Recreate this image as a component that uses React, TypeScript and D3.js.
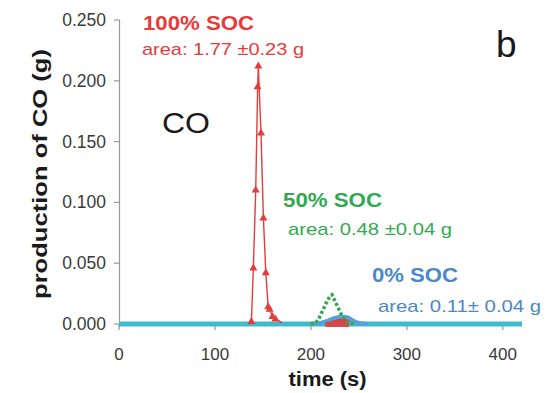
import React from "react";
import * as d3 from "d3";

// ---- data ----
const xTicks = [0, 100, 200, 300, 400];
const yTicks = [0, 0.05, 0.1, 0.15, 0.2, 0.25];

// 100% SOC (red, triangles)
const redTime = [136, 138, 140, 142.5, 144.5, 145.2, 148, 150.5, 153, 155.5, 157, 160, 163, 166, 170];
const redValue = [0.001, 0.002, 0.046, 0.11, 0.195, 0.212, 0.157, 0.087, 0.042, 0.014, 0.012, 0.006, 0.004, 0.003, 0.001];
const redMarkerTime = [138, 140, 142.5, 144.5, 145.2, 148, 150.5, 153, 155.5, 157, 160, 163];
// red tail near zero and small second bump
const redTailTime = [170, 200, 205, 215, 225, 232, 240, 245, 260, 282];
const redTailValue = [-0.0006, -0.0006, 0, 0.002, 0.004, 0.0045, 0.003, 0, -0.0006, -0.0006];

// 50% SOC (green, dotted)
const greenTime = [200, 205, 208, 211, 214, 217, 220, 222, 225, 228, 231, 234, 237, 240, 245];
const greenValue = [0, 0.001, 0.004, 0.009, 0.014, 0.019, 0.023, 0.024, 0.019, 0.014, 0.009, 0.005, 0.002, 0.001, 0];

// 0% SOC (blue bump)
const blueTime = [200, 210, 218, 225, 232, 238, 244, 250, 260];
const blueValue = [0, 0.0008, 0.0028, 0.005, 0.006, 0.0055, 0.0028, 0.0008, 0];

// baseline (cyan)
const cyanTime = [0, 420];
const cyanValue = [0, 0];

const W = 549;
const H = 393;
const FONT = "'Liberation Sans', Arial, sans-serif";

const RED = "#e63b3b";
const GREEN = "#33a852";
const BLUE_TXT = "#4a88c9";
const CYAN = "#3fbccc";
const BLUE = "#58a0dc";

export default function App() {
  const x = d3.scaleLinear().domain([0, 420]).range([119, 522]);
  const y = d3.scaleLinear().domain([0, 0.25]).range([324, 20]);

  const line = d3
    .line<[number, number]>()
    .x((d) => x(d[0]))
    .y((d) => y(d[1]));
  const curved = d3
    .line<[number, number]>()
    .x((d) => x(d[0]))
    .y((d) => y(d[1]))
    .curve(d3.curveMonotoneX);
  const area = d3
    .area<[number, number]>()
    .x((d) => x(d[0]))
    .y0(y(0) + 2)
    .y1((d) => y(d[1]))
    .curve(d3.curveMonotoneX);

  const zip = (a: number[], b: number[]) => a.map((t, i) => [t, b[i]] as [number, number]);
  const redPts = zip(redTime, redValue);
  const redTail = zip(redTailTime, redTailValue);
  const greenPts = zip(greenTime, greenValue);
  const bluePts = zip(blueTime, blueValue);
  const cyanPts = zip(cyanTime, cyanValue);

  const tri = d3.symbol().type(d3.symbolTriangle).size(28)() as string;
  const redMarkers = redMarkerTime.map((t) => {
    const i = redTime.indexOf(t);
    return [t, redValue[i]] as [number, number];
  });

  const T = (p: {
    x: number;
    y: number;
    size: number;
    len?: number;
    fill: string;
    bold?: boolean;
    anchor?: string;
    children: React.ReactNode;
    transform?: string;
  }) => (
    <text
      x={p.x}
      y={p.y}
      fontSize={p.size}
      fontFamily={FONT}
      fontWeight={p.bold ? "bold" : "normal"}
      fill={p.fill}
      textAnchor={p.anchor || "start"}
      textLength={p.len}
      lengthAdjust={p.len ? "spacingAndGlyphs" : undefined}
      transform={p.transform}
    >
      {p.children}
    </text>
  );

  return (
    <svg
      width={W}
      height={H}
      style={{ position: "absolute", left: 0, top: 0, background: "#fff" }}
    >
      <rect width={W} height={H} fill="#fff" />
      {/* y axis */}
      <line x1={119.5} x2={119.5} y1={y(0.25)} y2={y(0) + 3} stroke="#999" strokeWidth={1.2} />
      {yTicks.map((v) => (
        <g key={v}>
          <line x1={114} x2={119.5} y1={y(v)} y2={y(v)} stroke="#999" strokeWidth={1.2} />
          <T x={106} y={y(v) + 6} size={17.5} fill="#3a3a3a" anchor="end">
            {v.toFixed(3)}
          </T>
        </g>
      ))}
      {/* x ticks */}
      {xTicks.map((v) => (
        <g key={v}>
          <line x1={x(v)} x2={x(v)} y1={y(0)} y2={y(0) + 6} stroke="#999" strokeWidth={1.2} />
          <T x={x(v)} y={360} size={17} fill="#3a3a3a" anchor="middle">
            {v}
          </T>
        </g>
      ))}

      {/* red tail and small bump */}
      <path d={curved(redTail) || ""} fill="none" stroke={RED} strokeWidth={1.2} />
      <path d={area(redTail.filter((d) => d[0] >= 205 && d[0] <= 245)) || ""} fill={RED} />

      {/* cyan baseline */}
      <path d={line(cyanPts) || ""} fill="none" stroke={CYAN} strokeWidth={5} />
      {/* 0% SOC bump */}
      <path d={curved(bluePts) || ""} fill="none" stroke={BLUE} strokeWidth={4} />
      {/* red bump peeking through */}
      <path d={area(redTail.filter((d) => d[0] >= 212 && d[0] <= 242)) || ""} fill={RED} opacity={0.9} transform="translate(0,1)" />

      {/* 100% SOC */}
      <path d={line(redPts) || ""} fill="none" stroke={RED} strokeWidth={1.4} />
      {redMarkers.map((d, i) => (
        <path key={i} d={tri} transform={`translate(${x(d[0])},${y(d[1])})`} fill={RED} />
      ))}

      {/* 50% SOC */}
      <path
        d={line(greenPts) || ""}
        fill="none"
        stroke={GREEN}
        strokeWidth={3.5}
        strokeDasharray="3,2.2"
      />

      {/* annotations */}
      <T x={143} y={30} size={21} bold fill={RED} len={111}>100% SOC</T>
      <T x={142} y={55} size={17} fill={RED} len={162}>area: 1.77 ±0.23 g</T>
      <T x={283} y={207} size={20} bold fill={GREEN} len={99}>50% SOC</T>
      <T x={288} y={235} size={17} fill={GREEN} len={164}>area: 0.48 ±0.04 g</T>
      <T x={372} y={282} size={20} bold fill={BLUE_TXT} len={86}>0% SOC</T>
      <T x={378} y={312} size={17} fill={BLUE_TXT} len={163}>area: 0.11± 0.04 g</T>
      <T x={162} y={133} size={30} fill="#1a1a1a" len={48}>CO</T>
      <T x={496} y={57} size={37} fill="#1a1a1a">b</T>

      {/* axis titles */}
      <T x={327.5} y={386} size={21} bold fill="#1a1a1a" anchor="middle" len={78}>time (s)</T>
      <T
        x={0}
        y={0}
        size={21}
        bold
        fill="#1a1a1a"
        anchor="middle"
        len={250}
        transform="translate(47,174) rotate(-90)"
      >
        production of CO (g)
      </T>
    </svg>
  );
}
